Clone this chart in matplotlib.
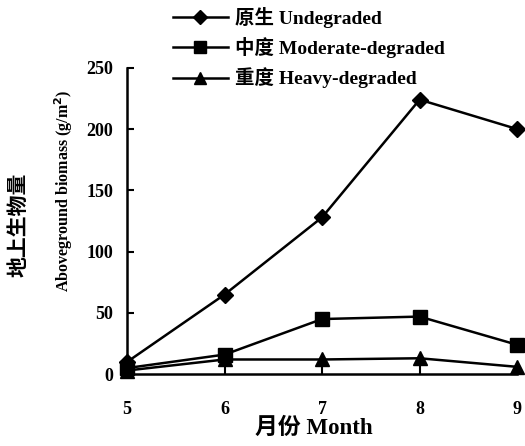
import matplotlib
matplotlib.use("Agg")
import matplotlib.pyplot as plt

months = [5, 6, 7, 8, 9]
undegraded = [10, 65, 128, 224, 200]
moderate = [5, 16, 45, 47, 24]
heavy = [3, 12, 12, 13, 6]
labels = ["原生 Undegraded", "中度 Moderate-degraded", "重度 Heavy-degraded"]
yticks = [0, 50, 100, 150, 200, 250]

plt.rcParams["font.family"] = ["Liberation Serif", "Noto Sans CJK SC"]
plt.rcParams["font.weight"] = "bold"
plt.rcParams["axes.labelweight"] = "bold"

fig = plt.figure(figsize=(5.25, 4.46), dpi=100)
ax = fig.add_axes([0.242, 0.161, 0.743, 0.687])

style = dict(color="black", lw=1.8, clip_on=False)
h1, = ax.plot(months, undegraded, marker="D", ms=8, **style)
h2, = ax.plot(months, moderate, marker="s", ms=10, **style)
h3, = ax.plot(months, heavy, marker="^", ms=10, **style)

ax.set_xlim(5, 9)
ax.set_ylim(0, 250)
ax.set_xticks(months)
ax.set_yticks(yticks)
for s in ("top", "right"):
    ax.spines[s].set_visible(False)
for s in ("left", "bottom"):
    ax.spines[s].set_linewidth(1.8)
ax.tick_params(direction="in", length=5, width=1.5, labelsize=13)
ax.tick_params(axis="y", pad=10)
ax.tick_params(axis="x", length=7, pad=19)

ax.set_ylabel("Aboveground biomass (g/m$^2$)", fontsize=11.5)
ax.yaxis.set_label_coords(-0.134, 0.598)
ax.set_xlabel("月份 Month", fontsize=16.5)
ax.xaxis.set_label_coords(0.479, -0.142)
fig.text(0.038, 0.495, "地上生物量", rotation=90, fontsize=15, ha="center", va="center")

fig.legend([h1, h2, h3], labels, loc="upper left", bbox_to_anchor=(0.315, 1.002),
           frameon=False, fontsize=14, handlelength=2.8, handletextpad=0.4,
           labelspacing=0.48, borderaxespad=0, markerscale=0.85)

fig.savefig("out.png", dpi=100)
